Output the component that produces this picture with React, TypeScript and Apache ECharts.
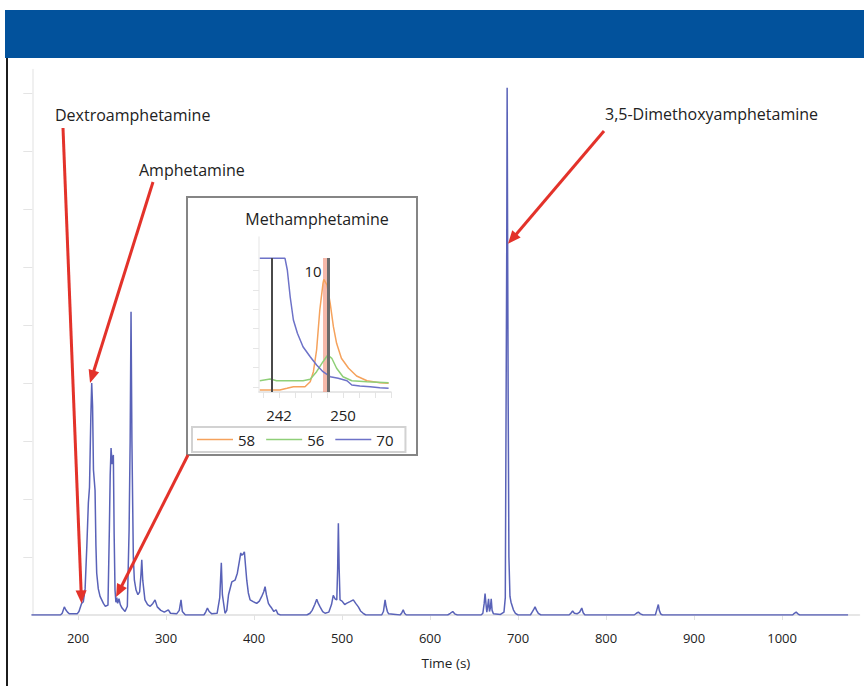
import React, { useEffect, useRef } from "react";
import * as echarts from "echarts";

// ---- Main total-ion chromatogram: [time (s), intensity] ----
const ticTrace: [number, number][] = [
  [147, 0], [180, 0], [182, 0.3], [184.4, 1.4], [186, 0.9], [188, 0.5], [190, 0.2], [199, 0.2],
  [201, 0.6], [204, 2.0], [206, 2.3], [208, 4.5], [210, 12], [211.7, 19.3], [213, 22], [214.5, 34],
  [215.5, 40], [216.5, 36], [217.5, 25], [219.3, 21.5], [220.3, 12], [221.2, 7.2], [223, 4.5],
  [225, 3.2], [228.8, 2.0], [231, 1.5], [234, 1.7], [235.6, 15], [236.5, 24], [237.5, 28.8],
  [238.7, 26], [240.1, 27.6], [241, 14], [242, 4.3], [243, 2.2], [244, 3.0], [245, 2.0],
  [246.5, 2.8], [248, 1.8], [250, 1.2], [253.4, 0.6], [256, 1.5], [258, 14.7], [259.2, 30],
  [260.2, 52.3], [261.2, 30], [262.8, 10], [264, 6], [265.9, 4.3], [268, 3.5], [270, 4],
  [271.5, 7], [272.4, 9.5], [273.5, 6], [276, 2.6], [279, 1.8], [282, 1.5], [285, 2.0],
  [287.5, 2.6], [290, 1.4], [294, 0.8], [298, 0.5], [302.6, 0.9], [305, 0.3], [312, 0.2],
  [315, 0.8], [317, 2.6], [318.5, 0.6], [322, 0], [343, 0], [345, 0.5], [347, 1.2], [349, 0.6],
  [352, 0.2], [358, 0.3], [361, 3], [362.8, 9.0], [364, 3.5], [367, 0.3], [369, 0.8], [371, 3.5],
  [374.7, 5.7], [378.4, 6.0], [381, 7.2], [383, 9], [384.9, 10.7], [386, 10.3], [387.5, 10.5],
  [389, 10.9], [390.3, 8.5], [391.7, 6.0], [393.5, 3.8], [395.5, 2.6], [399, 2.3], [403, 2.0],
  [406, 2.4], [408.7, 3.2], [411, 4], [412.5, 4.9], [414, 3.5], [416.3, 2.0], [418, 1.6],
  [420, 1.2], [422.5, 0.6], [425, 0.9], [427, 0.2], [430, 0], [460, 0], [463.6, 0.3], [466, 0.8],
  [469, 1.8], [471.2, 2.7], [473, 2.0], [475, 1.4], [478, 0.6], [480.7, 0.3], [485, 0.5],
  [488, 1.8], [490, 3.4], [492, 2.8], [494, 2.6], [495, 8], [495.8, 15.8], [496.7, 8],
  [497.7, 2.6], [500, 2.4], [503, 1.8], [505, 2.0], [509, 2.3], [512.8, 2.6], [515.5, 2.0],
  [518.5, 1.4], [521, 0.7], [524, 0.3], [527, 0], [545, 0], [547, 0.6], [548.9, 2.6], [550, 1.5],
  [551.5, 0.6], [553, 0.2], [566, 0], [568, 0.4], [569.5, 0.9], [571, 0.3], [573, 0], [620, 0],
  [623, 0.3], [625.8, 0.6], [628, 0.2], [631, 0], [658, 0], [660, 0.3], [661.5, 2.0], [662.5, 3.7],
  [663.5, 2.0], [664.5, 0.5], [665.5, 1.5], [666.5, 2.8], [667.5, 0.6], [668.5, 1.2], [669.5, 2.8],
  [670.5, 0.8], [672, 0.2], [680, 0.1], [684, 0.5], [685.5, 3], [686.5, 40], [687.1, 62],
  [687.6, 90.9], [688.2, 62], [688.8, 36], [689.6, 10], [690.8, 3.2], [692, 2.2], [694.7, 0.9],
  [697, 0.3], [700, 0], [714, 0], [716, 0.5], [718, 1.0], [719.3, 1.4], [721, 0.8], [723, 0.3],
  [726, 0], [758, 0], [760, 0.3], [762, 0.7], [764, 0.3], [767, 0.2], [770, 0.5], [772.4, 1.2],
  [774, 0.4], [776, 0], [832, 0], [834.5, 0.3], [836.7, 0.5], [839, 0.2], [842, 0], [856, 0],
  [857.5, 0.8], [859.4, 1.8], [860.5, 0.8], [862, 0.2], [864, 0], [1012, 0], [1014, 0.3],
  [1016, 0.5], [1018, 0.2], [1020, 0], [1075, 0],
];

const timeTicks = [200, 300, 400, 500, 600, 700, 800, 900, 1000];
const intensityTicks = [10, 20, 30, 40, 50, 60, 70, 80, 90];

// ---- Inset: extracted ions around methamphetamine ----
const ion58: [number, number][] = [
  [239.6, 2], [242.1, 2], [243, 3.7], [243.8, 5.3], [245.25, 5.3], [245.9, 10.3], [246.3, 20.3],
  [246.7, 42], [247.1, 82], [247.5, 108.7], [247.6, 112.7], [248.0, 107], [248.4, 88.7],
  [248.8, 65.3], [249.2, 48.7], [249.8, 33.7], [250.7, 23.7], [251.7, 16], [253.0, 11.3],
  [254.6, 9.3], [255.7, 8.7],
];
const ion56: [number, number][] = [
  [239.6, 11.3], [240.9, 13], [241.7, 11.3], [245.0, 11.3], [245.9, 12.7], [246.7, 20.3],
  [247.5, 30.3], [248.1, 37], [248.6, 33.7], [249.2, 23.7], [250.0, 15.3], [251.1, 11.3],
  [253.0, 10.3], [255.7, 9.3],
];
const ion70: [number, number][] = [
  [239.6, 133.7], [242.75, 133.7], [243.04, 122], [243.4, 95], [243.8, 72], [244.3, 58.7],
  [245.0, 45.3], [245.9, 35.3], [246.7, 27], [247.5, 20.3], [248.4, 15.3], [249.4, 13.7],
  [250.5, 11.3], [251.1, 7], [252.1, 6], [253.4, 5.3], [254.6, 4.3], [255.7, 3.7],
];
const insetTimeTicks = [240, 242, 244, 246, 248, 250, 252, 254, 256];
const insetTimeLabels = [242, 250];
const insetIntensityTicks = [5, 25, 44, 64, 83, 102, 122];
const insetMarkerTimes = { start: 241.1, bandFrom: 247.5, bandTo: 248.0, apex: 248.15 };
const insetMarkerTop = 134;

// ---- Annotations: label, label anchor, arrow tail (px), arrow tip (data) ----
const annotations = [
  { label: "Dextroamphetamine", lx: 55, ly: 115, tail: [63, 128], tip: [204, 2] },
  { label: "Amphetamine", lx: 139, ly: 170, tail: [153, 182], tip: [213.6, 40] },
  { label: "", lx: 0, ly: 0, tail: [188, 455], tip: [243.2, 3.1] },
  { label: "3,5-Dimethoxyamphetamine", lx: 605, ly: 114, tail: [604, 131], tip: [688.6, 64] },
];

const FONT = "'Open Sans', 'Noto Sans', sans-serif";
const ARROW = "#e3322a";

export default function App() {
  const ref = useRef<HTMLDivElement>(null);

  useEffect(() => {
    if (!ref.current) return;
    const chart = echarts.init(ref.current, null, { renderer: "svg" });

    const option: any = {
      animation: false,
      backgroundColor: "#ffffff",
      grid: [
        { left: 32.3, right: 4.5, top: 69.8, bottom: 71 },
        { left: 259, top: 237, width: 132, height: 155 },
      ],
      xAxis: [
        {
          type: "value",
          gridIndex: 0,
          min: 148,
          max: 1088,
          axisLine: { show: true, lineStyle: { color: "#dedede", width: 1.5 } },
          axisTick: { show: true, length: 5, customValues: timeTicks, lineStyle: { color: "#e2e2e2" } },
          axisLabel: {
            customValues: timeTicks,
            formatter: (v: number) => String(v),
            color: "#222",
            fontSize: 13,
            fontFamily: FONT,
            margin: 16,
          },
          splitLine: { show: false },
          name: "Time (s)",
          nameLocation: "middle",
          nameGap: 41,
          nameTextStyle: { color: "#222", fontSize: 13.5, fontFamily: FONT },
        },
        {
          type: "value",
          gridIndex: 1,
          min: 239.5,
          max: 256,
          axisLine: { show: true, lineStyle: { color: "#e0e0e0", width: 1.5 } },
          axisTick: { show: true, length: 6, customValues: insetTimeTicks, lineStyle: { color: "#e4e4e4" } },
          axisLabel: {
            customValues: insetTimeLabels,
            formatter: (v: number) => String(v),
            color: "#222",
            fontSize: 15,
            fontFamily: FONT,
            margin: 15,
          },
          splitLine: { show: false },
        },
      ],
      yAxis: [
        {
          type: "value",
          gridIndex: 0,
          min: 0,
          max: 94,
          axisLine: { show: true, lineStyle: { color: "#f0f0f0", width: 2 } },
          axisTick: { show: true, length: 9, customValues: intensityTicks, lineStyle: { color: "#e4e4e4" } },
          axisLabel: { show: false },
          splitLine: { show: false },
        },
        {
          type: "value",
          gridIndex: 1,
          min: 0,
          max: 155,
          axisLine: { show: true, lineStyle: { color: "#eeeeee", width: 1.5 } },
          axisTick: { show: true, length: 6, customValues: insetIntensityTicks, lineStyle: { color: "#e6e6e6" } },
          axisLabel: { show: false },
          splitLine: { show: false },
        },
      ],
      legend: {
        data: ["58", "56", "70"],
        left: 192,
        top: 427,
        icon: "rect",
        itemWidth: 36,
        itemHeight: 1.6,
        itemGap: 11,
        padding: [5, 12, 5, 5],
        borderColor: "#d2d2d2",
        borderWidth: 2,
        selectedMode: false,
        textStyle: { color: "#222", fontSize: 15, fontFamily: FONT, lineHeight: 13 },
      },
      series: [
        {
          name: "TIC",
          type: "line",
          xAxisIndex: 0,
          yAxisIndex: 0,
          data: ticTrace,
          symbol: "none",
          lineStyle: { color: "#5962b8", width: 1.5 },
          z: 3,
        },
        {
          name: "58",
          type: "line",
          xAxisIndex: 1,
          yAxisIndex: 1,
          data: ion58,
          symbol: "none",
          color: "#f5a25c",
          lineStyle: { color: "#f5a25c", width: 1.5 },
          z: 4,
          markArea: {
            silent: true,
            itemStyle: { color: "rgba(238, 128, 100, 0.55)" },
            data: [[
              { coord: [insetMarkerTimes.bandFrom, 0] },
              { coord: [insetMarkerTimes.bandTo, insetMarkerTop] },
            ]],
          },
        },
        {
          name: "56",
          type: "line",
          xAxisIndex: 1,
          yAxisIndex: 1,
          data: ion56,
          symbol: "none",
          color: "#8fcf78",
          lineStyle: { color: "#8fcf78", width: 1.5 },
          z: 4,
        },
        {
          name: "70",
          type: "line",
          xAxisIndex: 1,
          yAxisIndex: 1,
          data: ion70,
          symbol: "none",
          color: "#6d72c8",
          lineStyle: { color: "#6d72c8", width: 1.5 },
          z: 4,
          markLine: {
            silent: true,
            symbol: "none",
            label: { show: false },
            data: [
              [
                { coord: [insetMarkerTimes.start, 0], lineStyle: { color: "#4a4a4a", width: 2, type: "solid" } },
                { coord: [insetMarkerTimes.start, insetMarkerTop] },
              ],
              [
                { coord: [insetMarkerTimes.apex, 0], lineStyle: { color: "#6b6b6b", width: 3, type: "solid" } },
                { coord: [insetMarkerTimes.apex, insetMarkerTop] },
              ],
            ],
          },
        },
      ],
    };

    chart.setOption(option);

    const elements: any[] = [
      { type: "rect", z: -5, shape: { x: 5, y: 10, width: 859, height: 48 }, style: { fill: "#02529c" } },
      { type: "line", z: 5, shape: { x1: 7, y1: 58, x2: 7, y2: 686 }, style: { stroke: "#1c1c1c", lineWidth: 2 } },
      {
        type: "rect",
        z: -5,
        shape: { x: 187, y: 197, width: 230, height: 258 },
        style: { fill: "#ffffff", stroke: "#858585", lineWidth: 2 },
      },
      {
        type: "text",
        z: 10,
        x: 317,
        y: 219,
        style: { text: "Methamphetamine", fontSize: 16, fontFamily: FONT, fill: "#222", align: "center", verticalAlign: "middle" },
      },
      {
        type: "text",
        z: 10,
        x: 313,
        y: 271,
        style: { text: "10", fontSize: 15, fontFamily: FONT, fill: "#222", align: "center", verticalAlign: "middle" },
      },
    ];

    annotations.forEach((a) => {
      const tip = chart.convertToPixel({ xAxisIndex: 0, yAxisIndex: 0 }, a.tip) as number[];
      const [sx, sy] = a.tail;
      const [tx, ty] = tip;
      const dx = tx - sx;
      const dy = ty - sy;
      const len = Math.sqrt(dx * dx + dy * dy);
      const ux = dx / len;
      const uy = dy / len;
      const headLen = 13;
      const headHalf = 5.5;
      const bx = tx - ux * headLen;
      const by = ty - uy * headLen;
      elements.push({
        type: "line",
        z: 20,
        shape: { x1: sx, y1: sy, x2: bx + ux * 2, y2: by + uy * 2 },
        style: { stroke: ARROW, lineWidth: 3 },
      });
      elements.push({
        type: "polygon",
        z: 20,
        shape: {
          points: [
            [tx, ty],
            [bx - uy * headHalf, by + ux * headHalf],
            [bx + uy * headHalf, by - ux * headHalf],
          ],
        },
        style: { fill: ARROW },
      });
      if (a.label) {
        elements.push({
          type: "text",
          z: 10,
          x: a.lx,
          y: a.ly,
          style: { text: a.label, fontSize: 16, fontFamily: FONT, fill: "#222", align: "left", verticalAlign: "middle" },
        });
      }
    });

    chart.setOption({ graphic: { elements } });

    return () => chart.dispose();
  }, []);

  return (
    <div
      ref={ref}
      style={{ position: "fixed", left: 0, top: 0, width: 864, height: 686, background: "#fff" }}
    />
  );
}
